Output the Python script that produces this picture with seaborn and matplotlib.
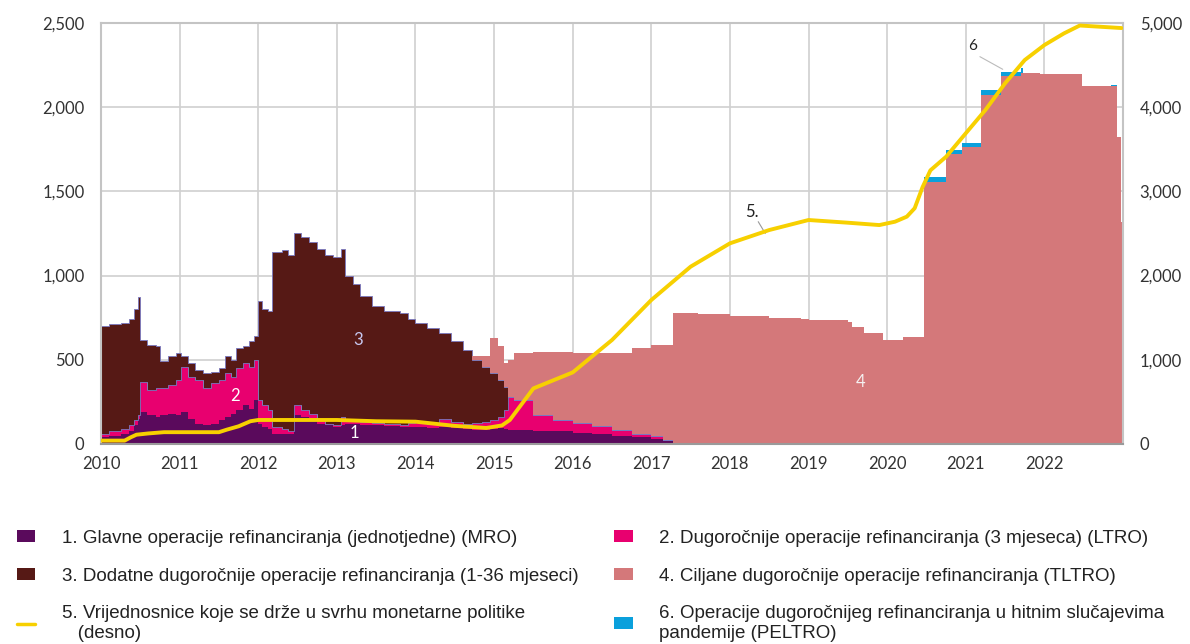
import pandas as pd
import numpy as np
import matplotlib.pyplot as plt
import seaborn as sns
from matplotlib.patches import Patch
from matplotlib.lines import Line2D

# --- data (EUR bn) ---
# cumulative tops of the first three layers (MRO, +LTRO, +dodatne LTRO)
early_dates = [2010.00, 2010.10, 2010.25, 2010.35, 2010.42, 2010.47, 2010.50, 2010.58, 2010.70,
               2010.75, 2010.85, 2010.95, 2011.02, 2011.10, 2011.20, 2011.30, 2011.40, 2011.50,
               2011.58, 2011.65, 2011.72, 2011.80, 2011.88, 2011.95, 2012.00, 2012.05, 2012.12,
               2012.17, 2012.30, 2012.38, 2012.45, 2012.55, 2012.65, 2012.75, 2012.85, 2012.95,
               2013.05, 2013.10, 2013.20, 2013.30, 2013.45, 2013.60, 2013.80, 2013.90, 2014.00,
               2014.15, 2014.30, 2014.45, 2014.60, 2014.72, 2014.85, 2014.95, 2015.05, 2015.12,
               2015.18, 2015.25, 2015.50, 2015.75, 2016.00, 2016.25, 2016.50, 2016.75, 2017.00,
               2017.15, 2017.28]
mro_top = [40, 45, 60, 80, 110, 150, 190, 170, 160,
           170, 180, 170, 190, 150, 120, 110, 120, 140,
           160, 180, 200, 230, 210, 260, 120, 100, 90,
           60, 60, 60, 170, 160, 150, 120, 110, 100,
           110, 120, 120, 110, 110, 105, 100, 100, 100,
           95, 100, 95, 90, 85, 85, 90, 95, 90,
           85, 85, 80, 75, 65, 60, 50, 40, 30,
           20, 0]
ltro_top = [60, 80, 90, 110, 140, 170, 370, 320, 330,
            330, 350, 380, 460, 400, 380, 330, 360, 380,
            420, 400, 450, 480, 460, 500, 260, 230, 200,
            100, 90, 80, 230, 200, 180, 140, 120, 110,
            160, 150, 140, 130, 125, 120, 115, 125, 130,
            120, 150, 130, 120, 125, 130, 140, 160, 200,
            280, 260, 170, 145, 125, 105, 85, 60, 45,
            25, 0]
add_top = [700, 710, 720, 740, 800, 870, 620, 590, 580,
           490, 520, 540, 520, 480, 440, 420, 430, 450,
           520, 500, 570, 580, 610, 640, 850, 800, 790,
           1140, 1150, 1120, 1250, 1230, 1200, 1160, 1120, 1110,
           1160, 1000, 950, 880, 820, 790, 780, 740, 720,
           690, 660, 610, 560, 500, 460, 420, 380, 340,
           280, 260, 170, 145, 125, 105, 85, 60, 45,
           25, 0]

# top of the TLTRO layer
tltro_dates = [2010.00, 2014.72, 2014.85, 2014.95, 2015.05, 2015.12, 2015.18, 2015.25, 2015.50,
               2015.75, 2016.00, 2016.50, 2016.75, 2017.00, 2017.28, 2017.60, 2018.00, 2018.50,
               2018.90, 2019.00, 2019.50, 2019.55, 2019.70, 2019.95, 2020.20, 2020.47, 2020.75,
               2020.95, 2021.20, 2021.45, 2021.70, 2021.95, 2022.48, 2022.92, 2022.97]
tltro_top = [0, 520, 520, 630, 580, 480, 500, 540, 545,
             545, 540, 540, 570, 590, 780, 770, 762, 750,
             740, 736, 726, 697, 661, 617, 633, 1558, 1722,
             1765, 2072, 2185, 2205, 2197, 2126, 1825, 1320]

peltro_dates = [2010.00, 2020.47, 2020.75, 2020.95, 2021.20, 2021.45, 2021.73, 2022.85, 2022.92]
peltro = [0, 28, 24, 20, 30, 26, 0, 8, 0]

# securities held for monetary policy purposes (right axis)
app_dates = [2010.00, 2010.30, 2010.38, 2010.45, 2010.60, 2010.80, 2011.50, 2011.60, 2011.75,
             2011.90, 2012.00, 2012.50, 2013.00, 2013.50, 2014.00, 2014.50, 2014.90, 2015.10,
             2015.20, 2015.50, 2016.00, 2016.50, 2017.00, 2017.50, 2018.00, 2018.50, 2019.00,
             2019.50, 2019.90, 2020.10, 2020.25, 2020.35, 2020.45, 2020.55, 2020.75, 2021.00,
             2021.25, 2021.50, 2021.75, 2022.00, 2022.25, 2022.45, 2022.70, 2022.98]
app = [40, 40, 80, 110, 125, 140, 140, 170, 210,
       270, 285, 285, 285, 270, 265, 215, 190, 220,
       285, 660, 850, 1235, 1710, 2106, 2383, 2541, 2660,
       2628, 2600, 2640, 2700, 2800, 3050, 3250, 3412, 3690,
       3967, 4284, 4560, 4738, 4877, 4970, 4956, 4940]

years = list(range(2010, 2023))

labels = ["1. Glavne operacije refinanciranja (jednotjedne) (MRO)",
          "2. Dugoročnije operacije refinanciranja (3 mjeseca) (LTRO)",
          "3. Dodatne dugoročnije operacije refinanciranja (1-36 mjeseci)",
          "4. Ciljane dugoročnije operacije refinanciranja (TLTRO)",
          "5. Vrijednosnice koje se drže u svrhu monetarne politike\n   (desno)",
          "6. Operacije dugoročnijeg refinanciranja u hitnim slučajevima\npandemije (PELTRO)"]
colors = ["#5a0a5c", "#e8006f", "#561915", "#d4787a", "#f7d000", "#0aa0dc"]

# --- build stacked table (step data, forward filled) ---
grid = sorted(set(early_dates) | set(tltro_dates) | set(peltro_dates) | {2023.0})
e = pd.DataFrame({"m": mro_top, "l": ltro_top, "a": add_top}, index=early_dates)
e = e.reindex(grid).ffill()
t = pd.Series(tltro_top, index=tltro_dates).reindex(grid).ffill()
p = pd.Series(peltro, index=peltro_dates).reindex(grid).ffill()
df = pd.DataFrame({
    "MRO": e["m"],
    "LTRO": e["l"] - e["m"],
    "ADD": e["a"] - e["l"],
    "TLTRO": (t - e["a"]).clip(lower=0),
    "PELTRO": p,
}, index=grid)

sns.set_style("white")
plt.rcParams["font.family"] = ["Lato", "DejaVu Sans"]

fig = plt.figure(figsize=(11.9, 6.44), dpi=100)
ax = fig.add_axes([0.0849, 0.3106, 0.8588, 0.6537])

polys = ax.stackplot(df.index, df["MRO"], df["LTRO"], df["ADD"], df["TLTRO"], df["PELTRO"],
                     colors=[colors[0], colors[1], colors[2], colors[3], colors[5]],
                     step="post", linewidth=0)
polys[2].set_edgecolor("#7a78c0")
polys[2].set_linewidth(0.6)

ax.set_xlim(2010, 2023)
ax.set_ylim(0, 2500)
ax.set_xticks(years)
ax.set_xticklabels([str(y) for y in years])
ax.set_yticks(range(0, 2501, 500))
ax.set_yticklabels([f"{v:,}" for v in range(0, 2501, 500)])
ax.grid(True, color="#d0d0d0", linewidth=1.2)
ax.set_axisbelow(True)
for s in ax.spines.values():
    s.set_color("#c4c4c4")
    s.set_linewidth(1.5)
ax.spines["bottom"].set_color("#9a9a9a")
ax.tick_params(axis="y", length=0, labelsize=12, colors="#333333", pad=12)
ax.tick_params(axis="x", direction="in", length=5, color="#444444", labelsize=12,
               labelcolor="#333333", pad=9)

ax2 = ax.twinx()
sns.lineplot(x=app_dates, y=app, ax=ax2, color=colors[4], linewidth=2.8)
ax2.set_ylim(0, 5000)
ax2.set_yticks(range(0, 5001, 1000))
ax2.set_yticklabels([f"{v:,}" for v in range(0, 5001, 1000)])
ax2.tick_params(axis="y", length=0, labelsize=12, colors="#333333", pad=12)
for s in ax2.spines.values():
    s.set_visible(False)
ax2.grid(False)

# series labels
ax.text(2013.27, 618, "3", color="#c8c8f0", fontsize=12, ha="center", va="center")
ax.text(2011.71, 285, "2", color="white", fontsize=12, ha="center", va="center")
ax.text(2013.22, 65, "1", color="white", fontsize=12, ha="center", va="center")
ax.text(2019.66, 368, "4", color="#f4f0f0", fontsize=12, ha="center", va="center")
ax.text(2018.28, 1378, "5.", color="#222222", fontsize=12, ha="center", va="center")
ax.plot([2018.36, 2018.45], [1320, 1250], color="#999999", linewidth=0.8)
ax.text(2021.09, 2363, "6", color="#222222", fontsize=11, ha="center", va="center")
ax.plot([2021.18, 2021.47], [2300, 2225], color="#bbbbbb", linewidth=0.8)

# legend in two columns
def handle(i):
    if i == 4:
        return Line2D([0], [0], color=colors[4], linewidth=2.5)
    return Patch(facecolor=colors[i], edgecolor="none")

leg_font = {"family": ["Liberation Sans", "DejaVu Sans"], "size": 13.5}
for cols, x0 in (([0, 2, 4], 0.014), ([1, 3, 5], 0.516)):
    leg = fig.legend([handle(i) for i in cols], [labels[i] for i in cols],
                     loc="upper left", bbox_to_anchor=(x0, 0.177), frameon=False,
                     prop=leg_font, handlelength=1.0, handleheight=0.6, handletextpad=1.4,
                     labelspacing=1.1, borderpad=0, borderaxespad=0)
    for txt in leg.get_texts():
        txt.set_color("#222222")

fig.savefig("out.png", dpi=100)
